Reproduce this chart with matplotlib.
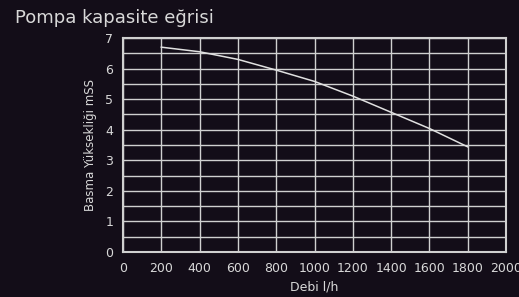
import numpy as np
import matplotlib.pyplot as plt

# Pompa eğrisi verileri
debi = [200, 400, 600, 800, 1000, 1200, 1400, 1600, 1800]
basma = [6.7, 6.55, 6.3, 5.95, 5.58, 5.1, 4.57, 4.04, 3.44]
x_ticks = [0, 200, 400, 600, 800, 1000, 1200, 1400, 1600, 1800, 2000]
y_ticks = [0, 1, 2, 3, 4, 5, 6, 7]

bg = '#130d18'
fg = '#d8d8d8'

fig = plt.figure(figsize=(5.19, 2.97), dpi=100, facecolor=bg)
ax = fig.add_axes([123/519, 1-252/297, 383/519, 214/297], facecolor=bg)

ax.plot(debi, basma, color='#e0e0e0', lw=1.1)

ax.set_xlim(0, 2000)
ax.set_ylim(0, 7)
ax.set_xticks(x_ticks)
ax.set_yticks(y_ticks)
ax.set_xticks(np.arange(0, 2001, 200), minor=True)
ax.set_yticks(np.arange(0, 7.01, 0.5), minor=True)
ax.grid(which='both', color='#d0d0d0', lw=1.0)
ax.tick_params(which='both', length=0, colors=fg, labelsize=9, pad=7)
for s in ax.spines.values():
    s.set_color('#d0d0d0')
    s.set_linewidth(1.5)

ax.set_xlabel('Debi l/h', color=fg, fontsize=9, labelpad=4)
ax.set_ylabel('Basma Yüksekliği mSS', color=fg, fontsize=8.5, labelpad=6)
fig.text(15/519, 1-18/297, 'Pompa kapasite eğrisi', color=fg, fontsize=13, va='center')

fig.savefig('out.png', dpi=100, facecolor=bg)
